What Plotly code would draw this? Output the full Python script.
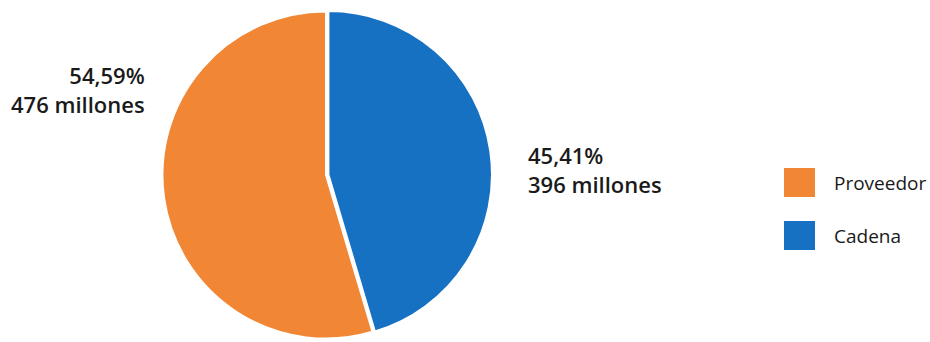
import plotly.graph_objects as go

# Share of sales, in millions
labels = ["Proveedor", "Cadena"]
values = [476, 396]
colors = ["#F18634", "#1771C3"]

W, H = 930, 342
total = sum(values)
shares = [v / total * 100 for v in values]


def pct(p):
    return f"{p:.2f}".replace(".", ",") + "%"


# Cadena is drawn first so it runs clockwise from 12 o'clock on the right
order = [1, 0]
fig = go.Figure()
fig.add_trace(go.Pie(
    labels=[labels[i] for i in order],
    values=[values[i] for i in order],
    sort=False,
    direction="clockwise",
    rotation=0,
    textinfo="none",
    hoverinfo="label+value+percent",
    marker=dict(colors=[colors[i] for i in order], line=dict(color="#FFFFFF", width=2)),
    pull=[0.015, 0],
    domain=dict(x=[160 / W, 492 / W], y=[1 / H, 333 / H]),
    showlegend=False,
))

label_font = dict(family="Open Sans", size=22, color="#1a1a1a", weight=600)
annotations = [
    dict(x=147 / W, y=1 - 90 / H, xref="paper", yref="paper",
         xanchor="right", yanchor="middle", align="right", showarrow=False,
         text=f"{pct(shares[0])}<br>{values[0]} millones", font=label_font),
    dict(x=526 / W, y=1 - 170 / H, xref="paper", yref="paper",
         xanchor="left", yanchor="middle", align="left", showarrow=False,
         text=f"{pct(shares[1])}<br>{values[1]} millones", font=label_font),
]

# Legend with large square swatches
shapes = []
legend_top = [168, 221]
for name, col, top in zip(labels, colors, legend_top):
    shapes.append(dict(type="rect", xref="paper", yref="paper",
                       x0=784 / W, x1=815 / W,
                       y0=1 - (top + 29) / H, y1=1 - top / H,
                       fillcolor=col, line=dict(width=0)))
    annotations.append(dict(x=832 / W, y=1 - (top + 15) / H, xref="paper", yref="paper",
                            xanchor="left", yanchor="middle", showarrow=False,
                            text=name,
                            font=dict(family="Open Sans", size=19, color="#1a1a1a")))

fig.update_layout(
    width=W, height=H,
    margin=dict(l=0, r=0, t=0, b=0),
    paper_bgcolor="#FFFFFF",
    plot_bgcolor="#FFFFFF",
    annotations=annotations,
    shapes=shapes,
)

fig.write_html("out.html")
